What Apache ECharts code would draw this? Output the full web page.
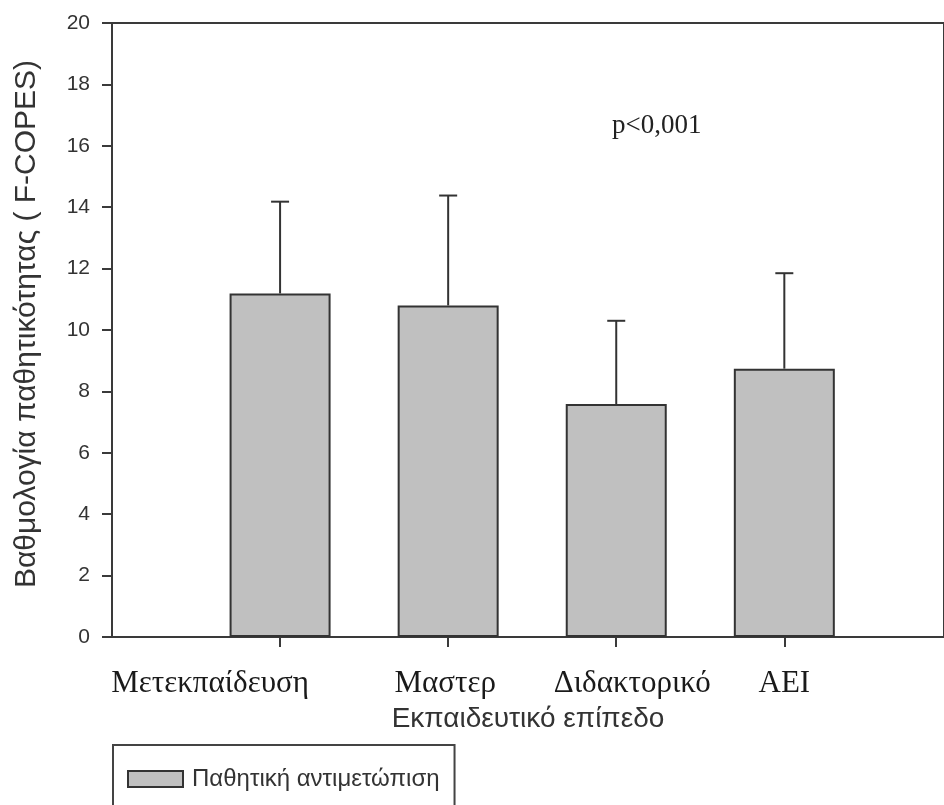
<!DOCTYPE html>
<html>
<head>
<meta charset="utf-8">
<script src="https://cdn.jsdelivr.net/npm/echarts@6/dist/echarts.min.js"></script>
<style>
html,body{margin:0;padding:0;background:#fff;}
#chart{width:944px;height:805px;}
</style>
</head>
<body>
<div id="chart"></div>
<script>
// ---- data ----
var categories = ['Μετεκπαίδευση', 'Μαστερ', 'Διδακτορικό', 'ΑΕΙ'];
var means = [11.19, 10.80, 7.59, 8.74];
var sdUp = [2.99, 3.58, 2.71, 3.11];
var seriesName = 'Παθητική αντιμετώπιση';
var yTicks = [0, 2, 4, 6, 8, 10, 12, 14, 16, 18, 20];
var annotation = 'p<0,001';

// ---- style (label horizontal offsets as drawn in the original, px) ----
var labelShift = [-70, -3, 16, 0];

var positions = categories.map(function (c, i) { return i + 1; });
var barData = means.map(function (m, i) { return [positions[i], m]; });
var errData = means.map(function (m, i) { return [positions[i], m, m + sdUp[i]]; });

var rich = {};
labelShift.forEach(function (s, i) {
  rich['c' + i] = {
    fontFamily: 'Liberation Serif', fontSize: 31, color: '#1a1a1a',
    padding: s < 0 ? [0, -2 * s, 0, 0] : [0, 0, 0, 2 * s]
  };
});

var chart = echarts.init(document.getElementById('chart'), null, {renderer: 'canvas'});
var axisColor = '#3a3a3a';
chart.setOption({
  animation: false,
  backgroundColor: '#fff',
  grid: {left: 112, right: -2, top: 23, bottom: 168, show: true, borderColor: axisColor, borderWidth: 2, backgroundColor: 'transparent'},
  xAxis: {
    type: 'value', min: 0, max: 4.95,
    splitLine: {show: false},
    axisLine: {show: true, onZero: false, lineStyle: {color: axisColor, width: 2}},
    axisTick: {show: true, customValues: positions, length: 10, lineStyle: {color: axisColor, width: 2}},
    axisLabel: {
      customValues: positions,
      formatter: function (v) {
        var i = Math.round(v) - 1;
        return categories[i] ? '{c' + i + '|' + categories[i] + '}' : '';
      },
      rich: rich,
      fontFamily: 'Liberation Serif', fontSize: 31, color: '#1a1a1a', margin: 31
    },
    name: 'Εκπαιδευτικό επίπεδο', nameLocation: 'middle', nameGap: 68,
    nameTextStyle: {fontFamily: 'Liberation Sans', fontSize: 28, color: '#333'}
  },
  yAxis: {
    type: 'value', min: 0, max: 20, interval: 2,
    splitLine: {show: false},
    axisLine: {show: true, lineStyle: {color: axisColor, width: 2}},
    axisTick: {show: true, inside: false, length: 10, lineStyle: {color: axisColor, width: 2}},
    axisLabel: {
      fontFamily: 'Liberation Sans', fontSize: 21, color: '#333', margin: 22,
      formatter: function (v) { return yTicks.indexOf(v) >= 0 ? String(v) : ''; }
    },
    name: 'Βαθμολογία παθητικότητας ( F-COPES)', nameLocation: 'middle', nameGap: 70,
    nameTextStyle: {fontFamily: 'Liberation Sans', fontSize: 30, color: '#333', padding: [0, 0, 0, 12]}
  },
  legend: {
    data: [seriesName], left: 113, top: 745,
    orient: 'horizontal', icon: 'rect',
    itemWidth: 55, itemHeight: 16, itemGap: 10,
    padding: [22, 15, 40, 14],
    borderColor: '#444', borderWidth: 2,
    textStyle: {fontFamily: 'Liberation Sans', fontSize: 24, color: '#333', padding: [0, 0, 0, 4]}
  },
  graphic: [{
    type: 'text', left: 612, top: 112,
    style: {text: annotation, font: '27px "Liberation Serif"', fill: '#222'}
  }],
  series: [
    {
      name: seriesName, type: 'bar', barWidth: 101,
      data: barData,
      itemStyle: {color: '#c0c0c0', borderColor: '#333', borderWidth: 2},
      z: 2
    },
    {
      name: 'err', type: 'custom', z: 3,
      data: errData,
      encode: {x: 0, y: [1, 2]},
      renderItem: function (params, api) {
        var x = api.value(0);
        var p0 = api.coord([x, api.value(1)]);
        var p1 = api.coord([x, api.value(2)]);
        var hw = 9;
        var st = {stroke: '#333', lineWidth: 2};
        return {type: 'group', children: [
          {type: 'line', shape: {x1: p0[0], y1: p0[1], x2: p1[0], y2: p1[1]}, style: st},
          {type: 'line', shape: {x1: p1[0] - hw, y1: p1[1], x2: p1[0] + hw, y2: p1[1]}, style: st}
        ]};
      }
    }
  ]
});
</script>
</body>
</html>
